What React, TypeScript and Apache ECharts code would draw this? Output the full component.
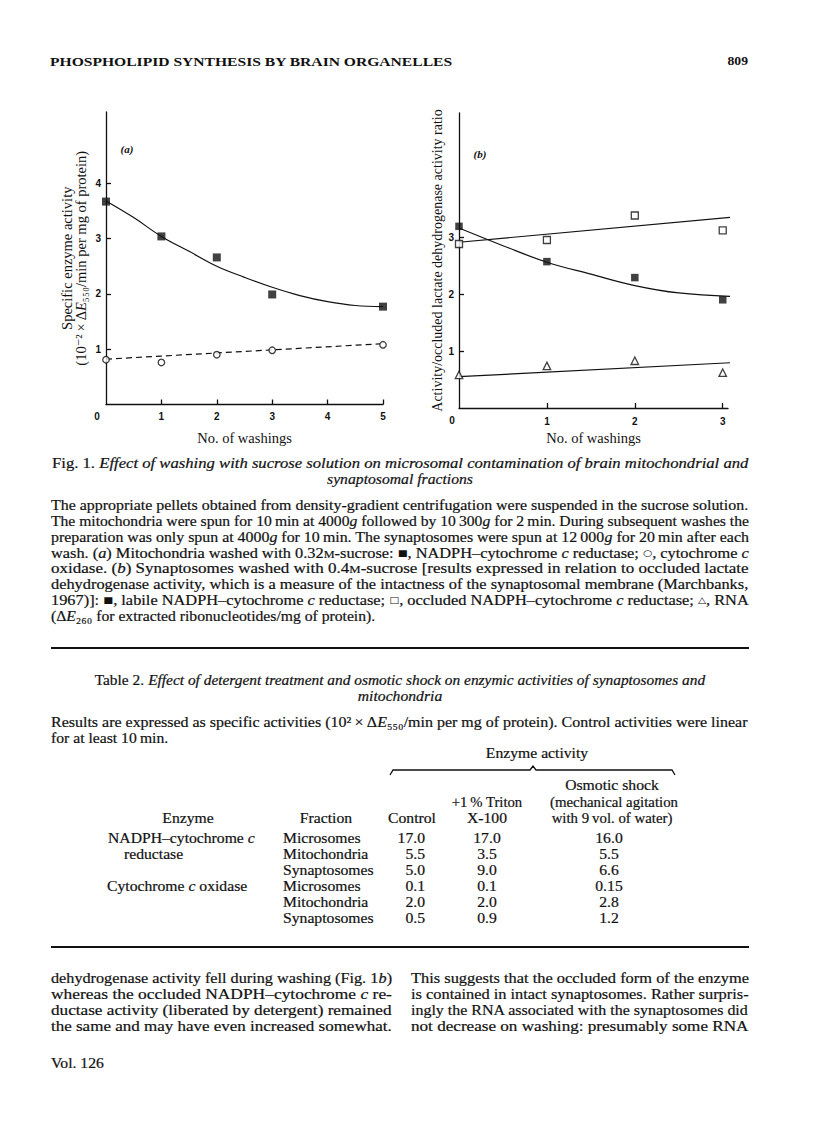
import React, { useEffect, useRef } from 'react';
import * as echarts from 'echarts';

const SERIF = "'Liberation Serif', 'DejaVu Serif', serif";
const SANS = "'Liberation Sans', 'DejaVu Sans', sans-serif";
const INK = '#111';
const STRETCH = 1.12;

// ---- Fig. 1(a): mitochondria ----
const washingsA = [0, 1, 2, 3, 5];
const reductaseA = [3.67, 3.04, 2.66, 1.99, 1.77];
const oxidaseA = [0.81, 0.76, 0.9, 0.98, 1.08];
const reductaseFitX = [0, 0.5, 1, 1.5, 2, 2.5, 3, 3.5, 4, 4.5, 5];
const reductaseFitY = [3.68, 3.38, 3.04, 2.77, 2.5, 2.3, 2.12, 1.97, 1.86, 1.79, 1.77];
const oxidaseFitX = [0, 5];
const oxidaseFitY = [0.82, 1.1];
const xTicksA = [1, 2, 3, 4, 5];
const yTicksA = [1, 2, 3, 4];

// ---- Fig. 1(b): synaptosomes ----
const washingsB = [0, 1, 2, 3];
const labileB = [3.19, 2.57, 2.29, 1.9];
const occludedB = [2.88, 2.95, 3.38, 3.12];
const rnaB = [0.58, 0.74, 0.83, 0.62];
const labileFitX = [0, 0.5, 1, 1.5, 2, 2.5, 3.1];
const labileFitY = [3.16, 2.85, 2.56, 2.35, 2.15, 2.02, 1.96];
const occludedFitX = [0, 3.1];
const occludedFitY = [2.91, 3.35];
const rnaFitX = [0, 3.15];
const rnaFitY = [0.55, 0.8];
const xTicksB = [1, 2, 3];
const yTicksB = [1, 2, 3];

// ---- Table 2 ----
const tableFractions = ['Microsomes', 'Mitochondria', 'Synaptosomes', 'Microsomes', 'Mitochondria', 'Synaptosomes'];
const tableControl = ['17.0', '5.5', '5.0', '0.1', '2.0', '0.5'];
const tableTriton = ['17.0', '3.5', '9.0', '0.1', '2.0', '0.9'];
const tableOsmotic = ['16.0', '5.5', '6.6', '0.15', '2.8', '1.2'];

type Seg = [string, string];

const STROKE = { stroke: INK, lineWidth: 0.2 };
const RICH: Record<string, any> = {
  n: { fontSize: 14, fontFamily: SERIF, fill: INK, ...STROKE },
  i: { fontSize: 14, fontFamily: SERIF, fontStyle: 'italic', fill: INK, ...STROKE },
  sc: { fontSize: 10.5, fontFamily: SERIF, fill: INK, verticalAlign: 'bottom', ...STROKE },
  sym: { fontSize: 9, fontFamily: "'DejaVu Sans', sans-serif", fill: INK },
  hb: { fontSize: 13, fontFamily: SERIF, fontWeight: 'bold', fill: INK },
  lab: { fontSize: 11, fontFamily: SERIF, fontStyle: 'italic', fontWeight: 'bold', fill: INK },
  tk: { fontSize: 10, fontFamily: SANS, fontWeight: 'bold', fill: INK },
};

let measureCtx: CanvasRenderingContext2D | null = null;
function measure(segs: Seg[]): number {
  if (!measureCtx) measureCtx = document.createElement('canvas').getContext('2d');
  if (!measureCtx) return 0;
  let w = 0;
  for (const [t, k] of segs) {
    const s = RICH[k];
    measureCtx.font = `${s.fontStyle || 'normal'} normal ${s.fontWeight || 'normal'} ${s.fontSize}px ${s.fontFamily}`;
    w += measureCtx.measureText(t).width;
  }
  return w;
}

function textEl(segs: Seg[], x: number, y: number, align: string = 'left', width?: number, stretch: number = STRETCH) {
  const rich: Record<string, any> = {};
  segs.forEach(([, k]) => (rich[k] = RICH[k]));
  const text = segs.map(([t, k]) => `{${k}|${t}}`).join('');
  let scaleX = stretch;
  if (width) {
    const w = measure(segs);
    if (w > 0) scaleX = width / w;
  }
  return {
    type: 'text',
    x,
    y,
    scaleX,
    silent: true,
    style: {
      text,
      rich,
      align,
      verticalAlign: 'middle',
      fill: INK,
      font: `14px ${SERIF}`,
    },
  };
}

const N = (t: string): Seg => [t, 'n'];
const I = (t: string): Seg => [t, 'i'];
const SC = (t: string): Seg => [t, 'sc'];
const SY = (t: string): Seg => [t, 'sym'];

const captionLines: Seg[][] = [
  [N('The appropriate pellets obtained from density-gradient centrifugation were suspended in the sucrose solution.')],
  [N('The mitochondria were spun for 10\u2009min at 4000'), I('g'), N(' followed by 10\u2009300'), I('g'), N(' for 2\u2009min. During subsequent washes the')],
  [N('preparation was only spun at 4000'), I('g'), N(' for 10\u2009min. The synaptosomes were spun at 12\u2009000'), I('g'), N(' for 20\u2009min after each')],
  [N('wash. ('), I('a'), N(') Mitochondria washed with 0.32'), SC('M'), N('-sucrose: '), SY('\u25A0'), N(', NADPH\u2013cytochrome '), I('c'), N(' reductase; '), SY('\u25CB'), N(', cytochrome '), I('c')],
  [N('oxidase. ('), I('b'), N(') Synaptosomes washed with 0.4'), SC('M'), N('-sucrose [results expressed in relation to occluded lactate')],
  [N('dehydrogenase activity, which is a measure of the intactness of the synaptosomal membrane (Marchbanks,')],
  [N('1967)]: '), SY('\u25A0'), N(', labile NADPH\u2013cytochrome '), I('c'), N(' reductase; '), SY('\u25A1'), N(', occluded NADPH\u2013cytochrome '), I('c'), N(' reductase; '), SY('\u25B3'), N(', RNA')],
  [N('(\u0394'), I('E'), N('\u2082\u2086\u2080 for extracted ribonucleotides/mg of protein).')],
];
const captionY = [505, 521, 537, 553, 568, 584, 600, 616];

const leftBody: Seg[][] = [
  [N('dehydrogenase activity fell during washing (Fig. 1'), I('b'), N(')')],
  [N('whereas the occluded NADPH\u2013cytochrome '), I('c'), N(' re-')],
  [N('ductase activity (liberated by detergent) remained')],
  [N('the same and may have even increased somewhat.')],
];
const rightBody: Seg[][] = [
  [N('This suggests that the occluded form of the enzyme')],
  [N('is contained in intact synaptosomes. Rather surpris-')],
  [N('ingly the RNA associated with the synaptosomes did')],
  [N('not decrease on washing: presumably some RNA')],
];
const bodyY = [978, 994, 1010, 1026];
const rowY = [838, 854, 870, 886, 902, 918];

function buildGraphic() {
  const g: any[] = [];
  // page header
  g.push(textEl([['PHOSPHOLIPID SYNTHESIS BY BRAIN ORGANELLES', 'hb']], 50, 61, 'left', 403));
  g.push(textEl([['809', 'hb']], 748, 61, 'right', undefined, 1.05));
  // panel labels and origin zeros
  g.push(textEl([['(a)', 'lab']], 127, 149, 'center', undefined, 1));
  g.push(textEl([['(b)', 'lab']], 480, 154, 'center', undefined, 1));
  g.push(textEl([['0', 'tk']], 97, 416, 'center', undefined, 1));
  g.push(textEl([['0', 'tk']], 452, 420, 'center', undefined, 1));
  // figure caption
  g.push(textEl([N('Fig. 1. '), I('Effect of washing with sucrose solution on microsomal contamination of brain mitochondrial and')], 52, 463, 'left', 697));
  g.push(textEl([I('synaptosomal fractions')], 400, 479, 'center'));
  captionLines.forEach((segs, k) => {
    const last = k === captionLines.length - 1;
    g.push(textEl(segs, 51, captionY[k], 'left', last ? undefined : 698));
  });
  // rules
  g.push({ type: 'line', silent: true, shape: { x1: 51, y1: 648, x2: 749, y2: 648 }, style: { stroke: INK, lineWidth: 2 } });
  g.push({ type: 'line', silent: true, shape: { x1: 51, y1: 947, x2: 749, y2: 947 }, style: { stroke: INK, lineWidth: 2 } });
  // table title
  g.push(textEl([N('Table 2. '), I('Effect of detergent treatment and osmotic shock on enzymic activities of synaptosomes and')], 400, 680, 'center', undefined, 1.1));
  g.push(textEl([I('mitochondria')], 400, 696, 'center'));
  g.push(textEl([N('Results are expressed as specific activities (10\u00B2\u2009\u00D7\u2009\u0394'), I('E'), N('\u2085\u2085\u2080/min per mg of protein). Control activities were linear')], 51, 722, 'left', 697));
  g.push(textEl([N('for at least 10\u2009min.')], 51, 738, 'left'));
  g.push(textEl([N('Enzyme activity')], 537, 753, 'center'));
  g.push({
    type: 'polyline',
    silent: true,
    shape: { points: [[390, 775], [393, 770], [530, 770], [533, 766], [536, 770], [672, 770], [675, 775]] },
    style: { stroke: INK, lineWidth: 1.3, fill: null },
  });
  // column headers
  g.push(textEl([N('Osmotic shock')], 612, 785, 'center'));
  g.push(textEl([N('+1\u2009% Triton')], 487, 802, 'center', undefined, 1.05));
  g.push(textEl([N('(mechanical agitation')], 614, 802, 'center', undefined, 1.06));
  g.push(textEl([N('Enzyme')], 188, 818, 'center'));
  g.push(textEl([N('Fraction')], 326, 818, 'center'));
  g.push(textEl([N('Control')], 412, 818, 'center'));
  g.push(textEl([N('X-100')], 487, 818, 'center'));
  g.push(textEl([N('with 9\u2009vol. of water)')], 612, 818, 'center', undefined, 1.06));
  // enzyme names
  g.push(textEl([N('NADPH\u2013cytochrome '), I('c')], 108, rowY[0], 'left'));
  g.push(textEl([N('reductase')], 124, rowY[1], 'left'));
  g.push(textEl([N('Cytochrome '), I('c'), N(' oxidase')], 107, rowY[3], 'left'));
  tableFractions.forEach((f, k) => {
    g.push(textEl([N(f)], 283, rowY[k], 'left'));
    g.push(textEl([N(tableControl[k])], 425, rowY[k], 'right'));
    g.push(textEl([N(tableTriton[k])], 487, rowY[k], 'center'));
    g.push(textEl([N(tableOsmotic[k])], 609, rowY[k], 'center'));
  });
  // body text
  leftBody.forEach((segs, k) => g.push(textEl(segs, 51, bodyY[k], 'left', 341)));
  rightBody.forEach((segs, k) => g.push(textEl(segs, 411, bodyY[k], 'left', 338)));
  g.push(textEl([N('Vol. 126')], 51, 1063, 'left'));
  return g;
}

const pairs = (xs: number[], ys: number[]) => xs.map((x, k) => [x, ys[k]]);

function buildOption(): any {
  const axisLineStyle = { color: INK, width: 1.3 };
  const tickLabel = { fontSize: 10, fontFamily: SANS, fontWeight: 'bold', color: INK };
  const nameStyle = { fontSize: 14.5, fontFamily: SERIF, color: INK };
  const baseX = (grid: number, max: number, ticks: number[], gap: number, margin: number) => ({
    gridIndex: grid,
    type: 'value',
    min: 0,
    max,
    interval: 1,
    axisLine: { show: true, onZero: false, lineStyle: axisLineStyle },
    axisTick: { show: true, inside: true, length: 5, customValues: ticks, lineStyle: axisLineStyle },
    axisLabel: { ...tickLabel, margin, customValues: ticks },
    splitLine: { show: false },
    name: 'No. of washings',
    nameLocation: 'middle',
    nameGap: gap,
    nameTextStyle: nameStyle,
  });
  const baseY = (grid: number, max: number, ticks: number[]) => ({
    gridIndex: grid,
    type: 'value',
    min: 0,
    max,
    interval: 1,
    axisLine: { show: true, onZero: false, lineStyle: axisLineStyle },
    axisTick: { show: true, inside: true, length: 5, customValues: ticks, lineStyle: axisLineStyle },
    axisLabel: { ...tickLabel, margin: 5, customValues: ticks },
    splitLine: { show: false },
  });
  const fitLine = (name: string, data: number[][], xi: number, dashed = false) => ({
    name,
    type: 'line',
    xAxisIndex: xi,
    yAxisIndex: xi,
    data,
    smooth: data.length > 2 ? 0.4 : false,
    showSymbol: false,
    symbol: 'none',
    clip: false,
    silent: true,
    z: 2,
    lineStyle: { color: INK, width: 1.2, type: dashed ? [6, 4] : 'solid' },
  });
  const points = (name: string, data: number[][], xi: number, symbol: string, size: number, filled: boolean) => ({
    name,
    type: 'scatter',
    xAxisIndex: xi,
    yAxisIndex: xi,
    data,
    symbol,
    symbolSize: size,
    clip: false,
    silent: true,
    z: 5,
    itemStyle: filled
      ? { color: INK, borderColor: INK, borderWidth: 0 }
      : { color: '#fff', borderColor: INK, borderWidth: 1.3 },
  });
  return {
    animation: false,
    backgroundColor: '#fff',
    grid: [
      { left: 106, top: 112, width: 277, height: 292.5 },
      { left: 459, top: 113, width: 269, height: 295 },
    ],
    xAxis: [baseX(0, 5, xTicksA, 26, 7), baseX(1, 3.06, xTicksB, 22, 8)],
    yAxis: [
      {
        ...baseY(0, 5.29, yTicksA),
        name: '{n|Specific enzyme activity}\n{n|(10\u207B\u00B2\u2009\u00D7\u2009\u0394}{i|E}{n|\u2085\u2085\u2080/min per mg of protein)}',
        nameLocation: 'middle',
        nameGap: 18,
        nameRotate: 90,
        nameTextStyle: {
          ...nameStyle,
          lineHeight: 14,
          rich: {
            n: { fontSize: 14.5, fontFamily: SERIF, color: INK, lineHeight: 14 },
            i: { fontSize: 14.5, fontFamily: SERIF, fontStyle: 'italic', color: INK, lineHeight: 14 },
          },
        },
      },
      {
        ...baseY(1, 5.18, yTicksB),
        name: 'Activity/occluded lactate dehydrogenase activity ratio',
        nameLocation: 'middle',
        nameGap: 13,
        nameRotate: 90,
        nameTextStyle: { ...nameStyle, fontSize: 14 },
      },
    ],
    series: [
      fitLine('NADPH-cytochrome c reductase fit', pairs(reductaseFitX, reductaseFitY), 0),
      fitLine('cytochrome c oxidase fit', pairs(oxidaseFitX, oxidaseFitY), 0, true),
      points('NADPH-cytochrome c reductase', pairs(washingsA, reductaseA), 0, 'rect', 8, true),
      points('cytochrome c oxidase', pairs(washingsA, oxidaseA), 0, 'circle', 6.5, false),
      fitLine('labile reductase fit', pairs(labileFitX, labileFitY), 1),
      fitLine('occluded reductase fit', pairs(occludedFitX, occludedFitY), 1),
      fitLine('RNA fit', pairs(rnaFitX, rnaFitY), 1),
      points('labile NADPH-cytochrome c reductase', pairs(washingsB, labileB), 1, 'rect', 7.5, true),
      points('occluded NADPH-cytochrome c reductase', pairs(washingsB, occludedB), 1, 'rect', 7, false),
      points('RNA', pairs(washingsB, rnaB), 1, 'triangle', 7.5, false),
    ],
    graphic: buildGraphic(),
  };
}

export default function App() {
  const ref = useRef<HTMLDivElement>(null);
  useEffect(() => {
    if (!ref.current) return;
    const chart = echarts.init(ref.current, null, { renderer: 'svg', width: 816, height: 1136 });
    chart.setOption(buildOption());
    return () => chart.dispose();
  }, []);
  return (
    <div
      ref={ref}
      style={{ position: 'absolute', left: 0, top: 0, width: 816, height: 1136, background: '#fff' }}
    />
  );
}
